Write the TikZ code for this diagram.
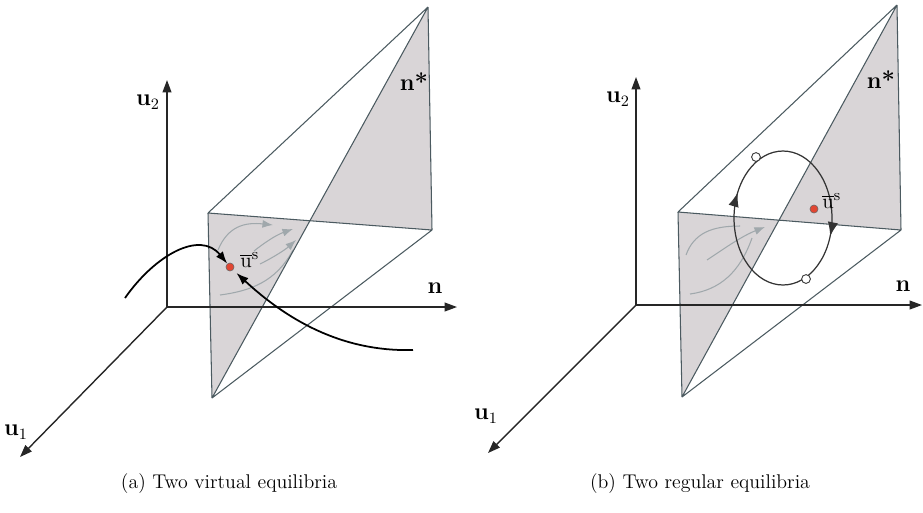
\documentclass[tikz,border=0pt]{standalone}
\usetikzlibrary{arrows.meta,decorations.markings,calc,intersections}
\definecolor{edge}{RGB}{75,90,96}
\definecolor{shadecol}{RGB}{217,213,215}
\definecolor{flow}{RGB}{160,168,172}
\definecolor{dotred}{RGB}{225,70,50}
\begin{document}
\begin{tikzpicture}[x=0.02cm,y=-0.02cm,
  edgeline/.style={draw=edge,line width=0.6pt},
  axisline/.style={draw=black!85,line width=0.8pt,-{Triangle[length=7pt,width=5pt]}},
  traj/.style={draw=black,line width=1pt,-{Latex[length=7pt,width=5pt]}},
  flowline/.style={draw=flow,line width=0.6pt,-{Latex[length=6pt,width=4.5pt]}},
  lab/.style={font=\bfseries\fontsize{13.5}{15}\selectfont,inner sep=0pt},
  eqlab/.style={font=\fontsize{13}{15}\selectfont,inner sep=0pt,anchor=west},
  captext/.style={font=\fontsize{11.3}{13}\selectfont,inner sep=0pt},
  eqdot/.style={circle,fill=dotred,draw=black!60,line width=0.3pt,inner sep=0pt,minimum size=4.6pt},
  opendot/.style={circle,fill=white,draw=black!80,line width=0.5pt,inner sep=0pt,minimum size=5pt},
  cycleline/.style={draw=black!80,line width=0.7pt,postaction={decorate},
    decoration={markings,
      mark=at position 0.43 with {\arrowreversed{Latex[length=8pt,width=6pt]}},
      mark=at position 0.95 with {\arrowreversed{Latex[length=8pt,width=6pt]}}}}
]
\useasboundingbox (0,0) rectangle (923,512);

% ---------------- left panel ----------------
\coordinate (LO) at (167,307);
\coordinate (LA) at (208,213);
\coordinate (LB) at (212,398);
\coordinate (LT) at (428,7);
\coordinate (LR) at (432,230);
\coordinate (LX) at (intersection of LA--LR and LB--LT);
\coordinate (LN) at (457,307);
\coordinate (LU2) at (167,80);
\coordinate (LU1) at (20,457);

\fill[shadecol] (LA)--(LB)--(LX)--cycle;
\fill[shadecol] (LX)--(LT)--(LR)--cycle;

\draw[flowline] (218,250) .. controls (228,226) and (245,222) .. (273,225);
\draw[flowline] (254,251) .. controls (264,243) and (276,235) .. (293,229);
\draw[flowline] (260,264) .. controls (276,256) and (286,249) .. (296,240);
\draw[flowline,-] (220,295) .. controls (250,291) and (276,282) .. (293,250);

\draw[edgeline] (LA)--(LB) (LA)--(LT) (LA)--(LR) (LB)--(LT) (LB)--(LR) (LT)--(LR);

\draw[axisline] (LO)--(LN);
\draw[axisline] (LO)--(LU2);
\draw[axisline] (LO)--(LU1);

\node[lab] (Lu2) at (148,102) {u$_2$};
\node[lab] (Lu1) at (16,432) {u$_1$};
\node[lab] (Ln) at (435,288) {n};
\node[lab] (Lns) at (414,82) {n*};

\node[eqdot] (Ld) at (230,267) {};
\node[eqlab] (Ldl) at (240,260) {$\overline{\mathrm{u}}^{\mathrm{s}}$};
\coordinate (Lc1) at (125,298);
\coordinate (Lc2) at (413,350);
\draw[traj] (Lc1) .. controls (155,255) and (200,230) .. (Ld);
\draw[traj,shorten >=2.5pt] (Lc2) .. controls (340,352) and (285,318) .. (Ld);

\node[captext] (capA) at (229,484) {(a) Two virtual equilibria};

% ---------------- right panel ----------------
\coordinate (RO) at (636,305);
\coordinate (RA) at (678,212);
\coordinate (RB) at (682,397);
\coordinate (RT) at (897,5);
\coordinate (RR) at (901,230);
\coordinate (RX) at (intersection of RA--RR and RB--RT);
\coordinate (RN) at (922,305);
\coordinate (RU2) at (636,77);
\coordinate (RU1) at (488,453);

\fill[shadecol] (RA)--(RB)--(RX)--cycle;
\fill[shadecol] (RX)--(RT)--(RR)--cycle;

\draw[flowline,-] (686,255) .. controls (694,233) and (712,226) .. (740,226);
\draw[flowline] (707,260) .. controls (725,248) and (742,236) .. (765,227);
\draw[flowline,-] (690,294) .. controls (720,290) and (740,272) .. (752,238);

\draw[edgeline] (RA)--(RB) (RA)--(RT) (RA)--(RR) (RB)--(RT) (RB)--(RR) (RT)--(RR);

\draw[axisline] (RO)--(RN);
\draw[axisline] (RO)--(RU2);
\draw[axisline] (RO)--(RU1);

\node[lab] (Ru2) at (618,99) {u$_2$};
\node[lab] (Ru1) at (486,416) {u$_1$};
\node[lab] (Rn) at (903,286) {n};
\node[lab] (Rns) at (881,80) {n*};

\draw[cycleline] (783,218) ellipse [x radius=0.98cm, y radius=1.34cm];
\node[opendot] (Rc1) at (756,157) {};
\node[opendot] (Rc2) at (806,279) {};
\node[eqdot] (Rd) at (814,209) {};
\node[eqlab] (Rdl) at (822,201) {$\overline{\mathrm{u}}^{\mathrm{s}}$};

\node[captext] (capB) at (700,484) {(b) Two regular equilibria};
\end{tikzpicture}
\end{document}
